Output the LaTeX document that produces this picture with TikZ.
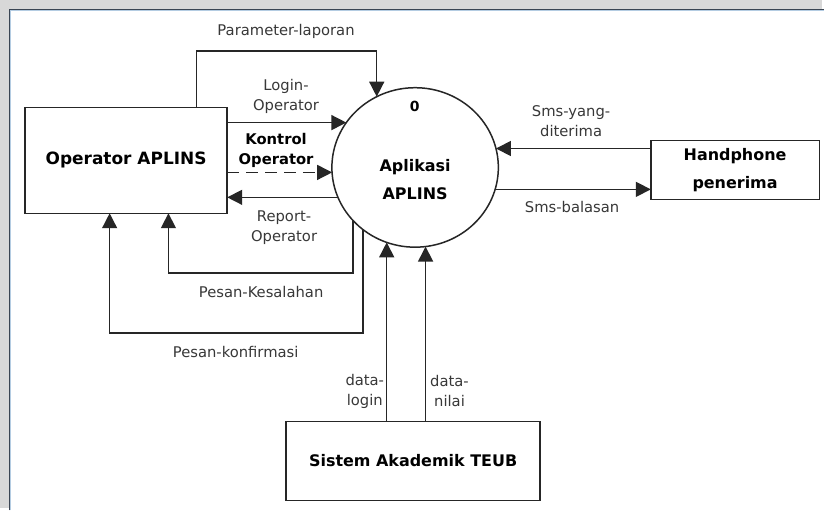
\documentclass[tikz,border=0pt]{standalone}
\usepackage{fontspec}
\setmainfont{DejaVu Sans}
\usetikzlibrary{arrows.meta,shapes.geometric}

\definecolor{bggrey}{HTML}{D8D8D8}
\definecolor{framedark}{HTML}{3A4452}
\definecolor{framelight}{HTML}{B4CCE2}
\definecolor{ink}{HTML}{262626}
\definecolor{labelink}{HTML}{383838}

\begin{document}
\begin{tikzpicture}[x=1pt,y=-1pt,
  flow/.style={draw=ink, line width=1.5pt, -{Triangle[length=15pt,width=15pt]}},
  dashflow/.style={flow, dash pattern=on 12pt off 7pt},
  entity/.style={draw=ink, line width=1.5pt, fill=white, inner sep=0pt, outer sep=0pt,
    font=\fontsize{16}{28}\selectfont\bfseries, align=center},
  process/.style={ellipse, draw=ink, line width=1.5pt, fill=white, inner sep=0pt, outer sep=0pt},
  flowlabel/.style={text=labelink, font=\fontsize{14.8}{20}\selectfont, align=center, inner sep=0pt},
  boldlabel/.style={text=black, font=\fontsize{14.8}{20}\selectfont\bfseries, align=center, inner sep=0pt},
]
% page and window frame
\fill[bggrey] (0,0) rectangle (825,510);
\fill[white] (9.5,9.5) rectangle (825,510);
\draw[framelight, line width=1pt] (11,512) -- (11,11) -- (827,11);
\draw[framedark, line width=1.5pt] (9.5,512) -- (9.5,9.5) -- (827,9.5);
\useasboundingbox (0,0) rectangle (825,510);

% external entities and the process
\node[entity, minimum width=203pt, minimum height=106pt] (op) at (126.5,161)
  {\fontsize{17}{28}\selectfont Operator APLINS};
\node[entity, minimum width=169pt, minimum height=59pt] (hp) at (737.5,170.5) {Handphone\\penerima};
\node[entity, minimum width=255pt, minimum height=79pt] (sis) at (414.5,462.5) {Sistem Akademik TEUB};
\node[process, minimum width=167pt, minimum height=160pt] (app) at (416.5,168) {};
\node[entity, draw=none, fill=none] (appname) at (416.5,180) {Aplikasi\\APLINS};
\node[text=black, font=\fontsize{14}{14}\selectfont\bfseries, inner sep=0pt] (appnum) at (416,107) {0};

% points where the flows meet the process boundary
\coordinate (appPar)   at (378,97);
\coordinate (appLogin) at (347.5,123);
\coordinate (appKtrl)  at (333.2,173);
\coordinate (appRep)   at (339.1,198);
\coordinate (appErr)   at (354,221);
\coordinate (appOk)    at (364,230.2);
\coordinate (appIn)    at (497.6,149);
\coordinate (appOut)   at (496.8,190);
\coordinate (appDl)    at (388,243.2);
\coordinate (appDn)    at (427,247.4);
% bends of the routed flows
\coordinate (parTop)   at (197,51);
\coordinate (errBase)  at (169,274);
\coordinate (okBase)   at (110,334);

% data flows
\draw[flow] (op.north -| parTop) |- (appPar |- parTop) -- (appPar);
\draw[flow] (op.east |- appLogin) -- (appLogin);
\draw[dashflow] (op.east |- appKtrl) -- (appKtrl);
\draw[flow] (appRep) -- (op.east |- appRep);
\draw[flow] (appErr) |- (errBase) -- (op.south -| errBase);
\draw[flow] (appOk) |- (okBase) -- (op.south -| okBase);
\draw[flow] (hp.west |- appIn) -- (appIn);
\draw[flow] (appOut) -- (hp.west |- appOut);
\draw[flow] (sis.north -| appDl) -- (appDl);
\draw[flow] (sis.north -| appDn) -- (appDn);

% flow labels
\node[flowlabel] (lPar) at (287,32) {Parameter-laporan};
\node[flowlabel] (lLogin) at (287,96.5) {Login-\\Operator};
\node[boldlabel] (lKtrl) at (277,151) {Kontrol\\Operator};
\node[flowlabel] (lRep) at (285,228.5) {Report-\\Operator};
\node[flowlabel] (lErr) at (262,293) {Pesan-Kesalahan};
\node[flowlabel] (lOk) at (236.5,353) {Pesan-konfirmasi};
\node[flowlabel] (lIn) at (573,122) {Sms-yang-\\diterima};
\node[flowlabel] (lOut) at (574,208) {Sms-balasan};
\node[flowlabel] (lDl) at (366,393) {data-\\login};
\node[flowlabel] (lDn) at (451,392.5) {data-\\nilai};
\end{tikzpicture}
\end{document}
